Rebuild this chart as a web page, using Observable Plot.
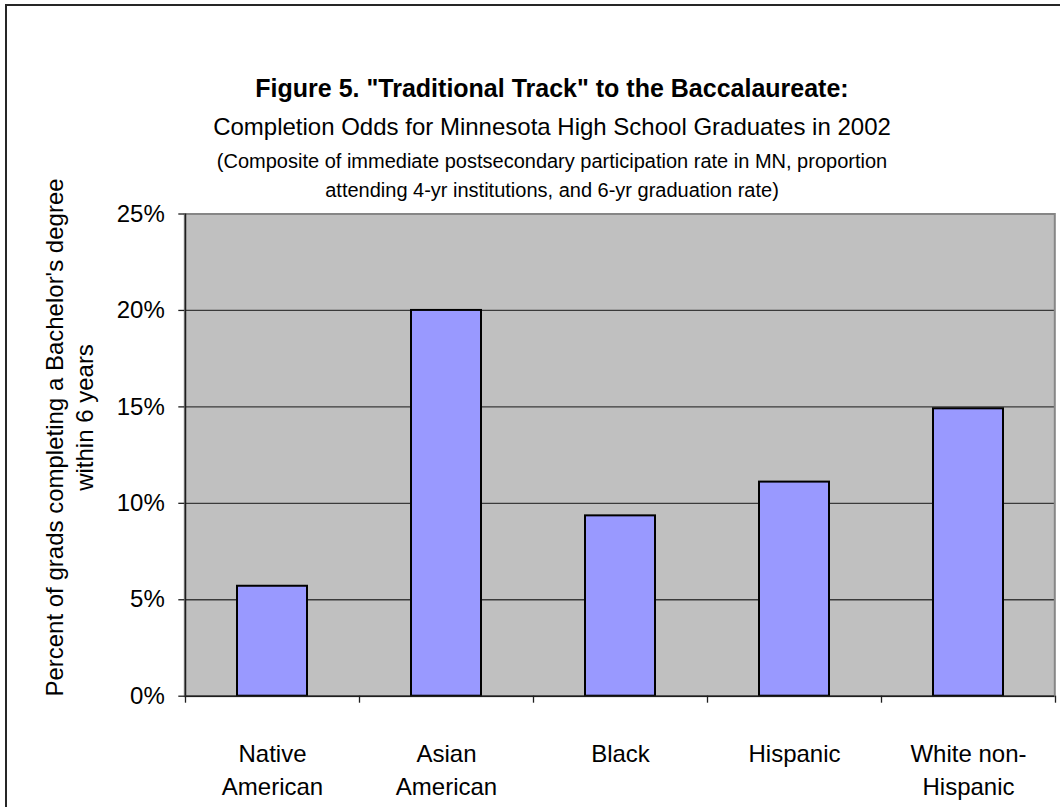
<!DOCTYPE html>
<html>
<head>
<meta charset="utf-8">
<script src="https://cdn.jsdelivr.net/npm/d3@7"></script>
<script src="https://cdn.jsdelivr.net/npm/@observablehq/plot@0.6"></script>
<style>
  html, body { margin: 0; padding: 0; background: #fff; width: 1060px; height: 807px; overflow: hidden; }
  #page { position: relative; width: 1060px; height: 807px; font-family: "Liberation Sans", Arial, sans-serif; color: #000; overflow: hidden; }
  #border { position: absolute; left: 5px; top: 4px; width: 1200px; height: 1000px; border-left: 2px solid #262626; border-top: 2px solid #262626; }
  .t { position: absolute; left: 0; width: 1104px; text-align: center; white-space: nowrap; }
  #title { font-size: 25px; line-height: 25px; font-weight: bold; top: 76px; }
  #subtitle { font-size: 24px; line-height: 24px; top: 115px; }
  #note1 { font-size: 20px; line-height: 20px; top: 151px; }
  #note2 { font-size: 20px; line-height: 20px; top: 180px; }
  #chart { position: absolute; left: 0; top: 0; }
</style>
</head>
<body>
<div id="page">
  <div id="border"></div>
  <div class="t" id="title"></div>
  <div class="t" id="subtitle"></div>
  <div class="t" id="note1"></div>
  <div class="t" id="note2"></div>
  <div id="chart"></div>
</div>
<script>
// Groups, the share of 2002 graduates finishing a bachelor's degree, and tick labels
const categories = ["Native American", "Asian American", "Black", "Hispanic", "White non-Hispanic"];
const tickLabels = ["Native\nAmerican", "Asian\nAmerican", "Black", "Hispanic", "White non-\nHispanic"];
const completion = [0.057, 0.200, 0.0935, 0.111, 0.149];
const yTicks = [0, 0.05, 0.10, 0.15, 0.20, 0.25];

const titleText = "Figure 5. \"Traditional Track\" to the Baccalaureate:";
const subtitleText = "Completion Odds for Minnesota High School Graduates in 2002";
const noteLines = [
  "(Composite of immediate postsecondary participation rate in MN, proportion",
  "attending 4-yr institutions, and 6-yr graduation rate)"
];
const yTitleLines = ["Percent of grads completing a Bachelor's degree", "within 6 years"];

document.getElementById("title").textContent = titleText;
document.getElementById("subtitle").textContent = subtitleText;
document.getElementById("note1").textContent = noteLines[0];
document.getElementById("note2").textContent = noteLines[1];

const rows = categories.map((group, i) => ({group, value: completion[i]}));

// Layout
const W = 1060, H = 807;
const margin = {left: 184.3, right: 5.7, top: 213.5, bottom: 111.3};
const padInner = 0.6, padOuter = 0.3;
const step = (W - margin.left - margin.right) / (categories.length - padInner + 2 * padOuter);
const midY = (margin.top + H - margin.bottom) / 2;
const font = "'Liberation Sans', Arial, sans-serif";
const axisColor = "#1e1e1e";

const chart = Plot.plot({
  width: W,
  height: H,
  marginLeft: margin.left,
  marginRight: margin.right,
  marginTop: margin.top,
  marginBottom: margin.bottom,
  style: {fontFamily: font, background: "transparent", overflow: "visible", color: "#000"},
  x: {domain: categories, paddingInner: padInner, paddingOuter: padOuter, axis: null},
  y: {domain: [0, 0.25], axis: null},
  marks: [
    // grey plot area
    Plot.frame({fill: "#C0C0C0", stroke: null}),
    Plot.gridY(yTicks, {stroke: "#3a3a3a", strokeOpacity: 1, strokeWidth: 1.3}),
    Plot.frame({stroke: "#868686", strokeWidth: 2}),
    Plot.barY(rows, {x: "group", y: "value", fill: "#9999FF", stroke: "#000", strokeWidth: 2}),
    // axis lines
    Plot.ruleY([0], {stroke: axisColor, strokeWidth: 1.5}),
    Plot.ruleX([categories[0]], {dx: -step / 2, stroke: axisColor, strokeWidth: 1.5}),
    // category boundary ticks
    Plot.ruleX(categories, {y1: 0, y2: 0, insetBottom: -7, dx: -step / 2, stroke: axisColor, strokeWidth: 1.3}),
    Plot.ruleX([categories[categories.length - 1]], {y1: 0, y2: 0, insetBottom: -7, dx: step / 2, stroke: axisColor, strokeWidth: 1.3}),
    Plot.axisY(yTicks, {
      tickFormat: d3.format(".0%"), tickSize: 6, tickPadding: 14, fontSize: 24,
      stroke: axisColor, strokeWidth: 1.3, label: null
    }),
    Plot.axisX({
      tickSize: 0, tickPadding: 43, fontSize: 24, lineHeight: 1.35,
      tickFormat: (d) => tickLabels[categories.indexOf(d)], label: null
    }),
    // two-line y-axis title
    Plot.text([yTitleLines[0]], {
      text: (d) => d, frameAnchor: "left", textAnchor: "middle", rotate: -90, lineAnchor: "bottom",
      dx: 62 - margin.left, dy: 437 - midY, fontSize: 24
    }),
    Plot.text([yTitleLines[1]], {
      text: (d) => d, frameAnchor: "left", textAnchor: "middle", rotate: -90, lineAnchor: "bottom",
      dx: 92 - margin.left, dy: 417 - midY, fontSize: 24
    })
  ]
});

document.getElementById("chart").appendChild(chart);
</script>
</body>
</html>
